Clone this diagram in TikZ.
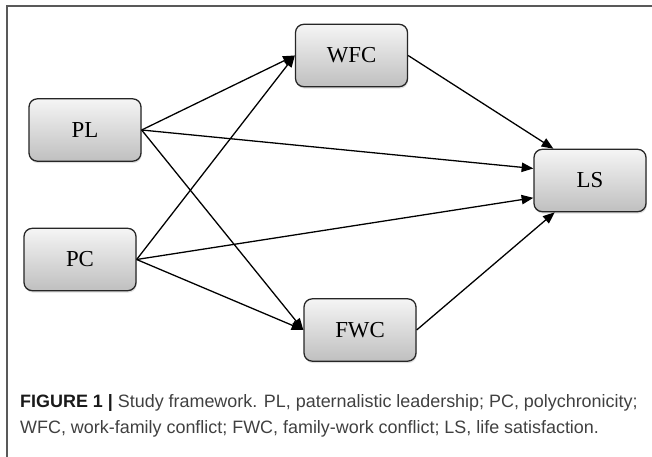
\documentclass[tikz,border=0pt]{standalone}
\usepackage{fontspec}
\setmainfont{Liberation Serif}
\newfontfamily\capfont{Liberation Sans}
\usetikzlibrary{arrows.meta,shadows}

\begin{document}
\begin{tikzpicture}
        [x=0.03cm, y=-0.03cm,
        box/.style={draw=black!85, line width=1.1pt, rounded corners=7pt,
            minimum width=3.36cm, minimum height=1.87cm,
            top color=gray!8, bottom color=gray!50,
            drop shadow={opacity=0.25, shadow xshift=0.6pt, shadow yshift=-1.6pt},
            font=\fontsize{19.5}{22}\selectfont},
        arrow/.style={line width=1.1pt, black, -{Triangle[length=10pt, width=8pt]}},
        frame/.style={line width=1.4pt, black!65},
        caption/.style={anchor=base west, inner sep=0pt, text=black!75,
            font=\capfont\fontsize{15.3}{18}\selectfont}]

        \useasboundingbox (0,0) rectangle (652,457);

        % frame (left and top edges only)
        \draw[frame] (7,457) -- (7,6) -- (652,6);

        % boxes
        \node[box] (pl) at (85,130) {PL};
        \node[box] (pc) at (80,259.5) {PC};
        \node[box] (wfc) at (351.5,55.5) {WFC};
        \node[box] (fwc) at (360,330) {FWC};
        \node[box] (ls) at (590,180.5) {LS};

        % paths from PL and PC
        \draw[arrow] (pl.east) -- (wfc.west);
        \draw[arrow] (pl.east) -- (ls.168);
        \draw[arrow] (pl.east) -- (fwc.west);
        \draw[arrow] (pc.east) -- (wfc.west);
        \draw[arrow] (pc.east) -- (ls.197);
        \draw[arrow] (pc.east) -- (fwc.west);

        % paths to LS
        \draw[arrow] (wfc.east) -- (ls.139);
        \draw[arrow] (fwc.east) -- (ls.222);

        % caption
        \node[caption] (cap1) at (20,407) {\textbf{\color{black!90}FIGURE 1 |} Study framework. PL, paternalistic leadership; PC, polychronicity;};
        \node[caption] (cap2) at (20,433) {WFC, work-family conflict; FWC, family-work conflict; LS, life satisfaction.};

    \end{tikzpicture}
\end{document}
